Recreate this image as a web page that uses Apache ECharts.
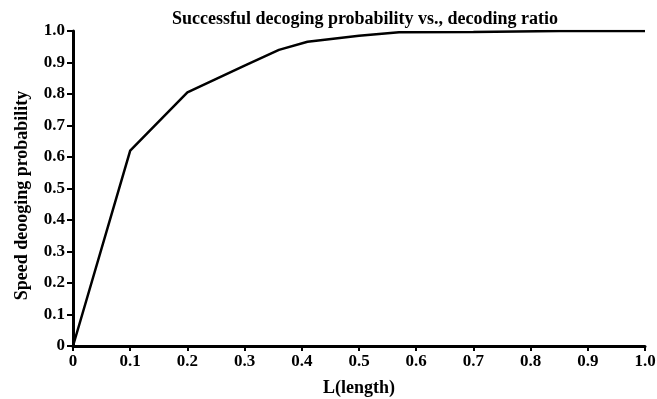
<!DOCTYPE html>
<html><head><meta charset="utf-8">
<script src="https://cdn.jsdelivr.net/npm/echarts@6/dist/echarts.min.js"></script>
<style>html,body{margin:0;padding:0;background:#fff}#c{width:657px;height:399px}</style>
</head><body><div id="c"></div>
<script>
const xValues = [0, 0.1, 0.2, 0.3, 0.36, 0.41, 0.5, 0.57, 0.7, 0.85, 1.0];
const yValues = [0, 0.62, 0.805, 0.89, 0.94, 0.966, 0.985, 0.996, 0.997, 1.0, 1.0];
const titleText = 'Successful decoging probability vs., decoding ratio';
const xName = 'L(length)';
const yName = 'Speed deooging probability';

const chart = echarts.init(document.getElementById('c'));
const font = 'Liberation Serif';
const fmt = v => v === 0 ? '0' : v.toFixed(1);
chart.setOption({
  animation: false,
  title: { text: titleText, left: 360, textAlign: 'center', top: 5,
    textStyle: { fontFamily: font, fontSize: 18, fontWeight: 'bold', color: '#000' } },
  grid: { left: 73, right: 12, top: 31, bottom: 53, containLabel: false, outerBoundsMode: 'none' },
  xAxis: { type: 'value', min: 0, max: 1, interval: 0.1,
    name: xName, nameLocation: 'middle', nameGap: 33,
    nameTextStyle: { fontFamily: font, fontSize: 18, fontWeight: 'bold', color: '#000' },
    axisLine: { lineStyle: { color: '#000', width: 3 } },
    axisTick: { show: true, length: 5, lineStyle: { color: '#000', width: 2 } },
    axisLabel: { fontFamily: font, fontSize: 17, fontWeight: 'bold', color: '#000', margin: 7, formatter: fmt },
    splitLine: { show: false } },
  yAxis: { type: 'value', min: 0, max: 1, interval: 0.1,
    name: yName, nameLocation: 'middle', nameGap: 42,
    nameTextStyle: { fontFamily: font, fontSize: 18, fontWeight: 'bold', color: '#000', padding: [0, 14, 0, 0] },
    axisLine: { show: true, lineStyle: { color: '#000', width: 3 } },
    axisTick: { show: true, length: 6, lineStyle: { color: '#000', width: 2 } },
    axisLabel: { fontFamily: font, fontSize: 17, fontWeight: 'bold', color: '#000', margin: 8, formatter: fmt },
    splitLine: { show: false } },
  series: [{ type: 'line', data: xValues.map((x, i) => [x, yValues[i]]),
    showSymbol: false, lineStyle: { color: '#000', width: 2.5 } }]
});
</script></body></html>
